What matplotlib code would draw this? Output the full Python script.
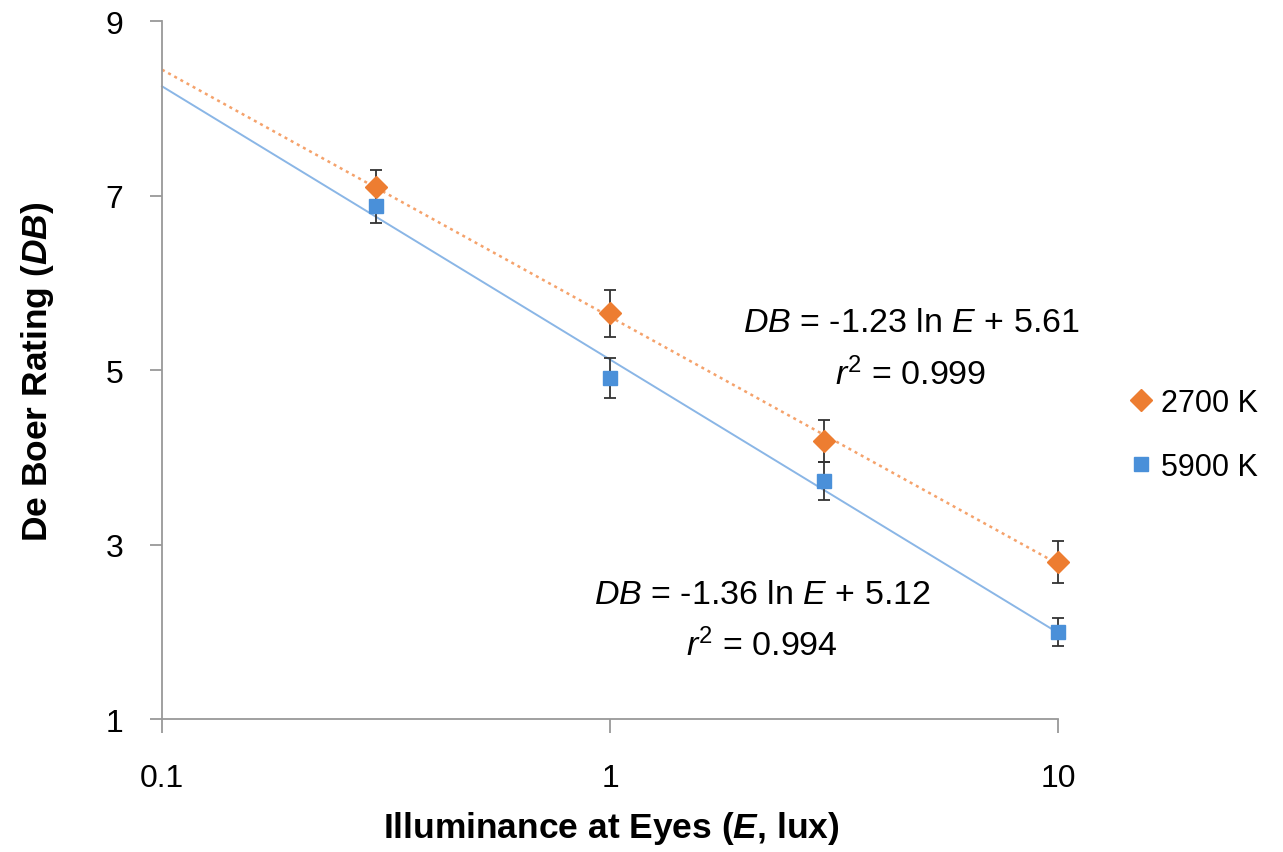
import numpy as np
import matplotlib
matplotlib.use("Agg")
import matplotlib.pyplot as plt
from matplotlib.lines import Line2D
from matplotlib import font_manager

# ---- data ----
illuminance = [0.3, 1, 3, 10]
db_2700 = [7.10, 5.65, 4.19, 2.80]
err_2700 = [0.19, 0.27, 0.24, 0.24]
db_5900 = [6.88, 4.91, 3.73, 2.00]
err_5900 = [0.19, 0.23, 0.22, 0.16]
fit_2700 = [-1.23, 5.61]   # slope, intercept in ln(E)
fit_5900 = [-1.36, 5.12]
fit_range = [0.1, 10]
series_names = ["2700 K", "5900 K"]
eq_texts = [r"$\mathit{DB}$ = -1.23 ln $\mathit{E}$ + 5.61", r"$\mathit{r}^2$ = 0.999",
            r"$\mathit{DB}$ = -1.36 ln $\mathit{E}$ + 5.12", r"$\mathit{r}^2$ = 0.994"]
yticks = [1, 3, 5, 7, 9]
xticks = [0.1, 1, 10]
xtick_labels = ["0.1", "1", "10"]

names = {f.name for f in font_manager.fontManager.ttflist}
fam = "Liberation Sans Narrow" if "Liberation Sans Narrow" in names else "Liberation Sans"
plt.rcParams["font.family"] = [fam, "DejaVu Sans"]
plt.rcParams["mathtext.fontset"] = "custom"
plt.rcParams["mathtext.rm"] = fam
plt.rcParams["mathtext.it"] = fam + ":italic"
plt.rcParams["mathtext.bf"] = fam + ":bold"
try:
    plt.rcParams["mathtext.bfit"] = fam + ":bold:italic"
    bfit = True
except Exception:
    bfit = False

orange = "#ED7D31"
blue = "#4A90D9"
fs_tick = 23
fs_eq = 24.5
fs_lab = 25.5
fs_leg = 22

fig = plt.figure(figsize=(12.83, 8.53), dpi=100)
ax = fig.add_axes([0.1263, 0.1559, 0.6983, 0.8183])
ax.set_xscale("log")
ax.set_xlim(0.1, 10)
ax.set_ylim(1, 9)

fx = np.array(fit_range)
ax.plot(fx, fit_2700[0] * np.log(fx) + fit_2700[1], color="#F5A26B", lw=1.8,
        linestyle=(0, (1.2, 1.6)), zorder=2, clip_on=False)
ax.plot(fx, fit_5900[0] * np.log(fx) + fit_5900[1], color="#8AB6E6", lw=1.4, zorder=2,
        clip_on=False)

ax.errorbar(illuminance, db_2700, yerr=err_2700, fmt="D", color=orange, ms=11,
            ecolor="#333333", elinewidth=1.3, capsize=4, capthick=1.3, zorder=3,
            clip_on=False)
ax.errorbar(illuminance, db_5900, yerr=err_5900, fmt="s", color=blue, ms=9.5,
            ecolor="#333333", elinewidth=1.3, capsize=4, capthick=1.3, zorder=3,
            clip_on=False)

for s in ["top", "right"]:
    ax.spines[s].set_visible(False)
for s in ["left", "bottom"]:
    ax.spines[s].set_color("#999999")
    ax.spines[s].set_linewidth(1.3)

ax.set_yticks(yticks)
ax.set_yticklabels([str(v) for v in yticks])
ax.set_xticks(xticks)
ax.set_xticklabels(xtick_labels)
ax.xaxis.set_minor_locator(matplotlib.ticker.NullLocator())
ax.tick_params(axis="y", length=9, width=1.3, color="#999999", pad=19, labelsize=fs_tick)
ax.tick_params(axis="x", length=10, width=1.3, color="#999999", pad=22, labelsize=fs_tick)

if bfit:
    ylab = r"De Boer Rating ($\mathbfit{DB}$)"
    xlab = r"Illuminance at Eyes ($\mathbfit{E}$, lux)"
else:
    ylab = "De Boer Rating (DB)"
    xlab = "Illuminance at Eyes (E, lux)"
fig.text(38 / 1283, 1 - 372 / 853, ylab, rotation=90, ha="center", va="center",
         fontsize=fs_lab, fontweight="bold")
fig.text(611 / 1283, 1 - 829 / 853, xlab, ha="center", va="center", fontsize=fs_lab,
         fontweight="bold")

fig.text(911 / 1283, 1 - 323 / 853, eq_texts[0], ha="center", va="center", fontsize=fs_eq)
fig.text(911 / 1283, 1 - 375 / 853, eq_texts[1], ha="center", va="center", fontsize=fs_eq)
fig.text(762 / 1283, 1 - 595 / 853, eq_texts[2], ha="center", va="center", fontsize=fs_eq)
fig.text(762 / 1283, 1 - 646 / 853, eq_texts[3], ha="center", va="center", fontsize=fs_eq)

handles = [Line2D([], [], marker="D", color=orange, ls="none", ms=11),
           Line2D([], [], marker="s", color=blue, ls="none", ms=9.5)]
fig.legend(handles, series_names, loc="center left", bbox_to_anchor=(0.868, 0.489),
           frameon=False, fontsize=fs_leg, handletextpad=0.15, handlelength=1.0,
           labelspacing=1.1, borderaxespad=0)

fig.savefig("out.png", dpi=100)
